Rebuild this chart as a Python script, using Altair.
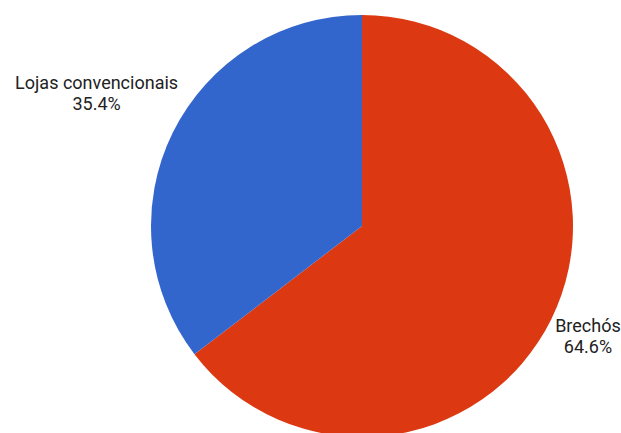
import altair as alt
import pandas as pd

categories = ["Brechós", "Lojas convencionais"]
values = [64.6, 35.4]
pct_labels = ["64.6%", "35.4%"]
colors = ["#dc3912", "#3366cc"]

df = pd.DataFrame({
    "cat": categories,
    "val": values,
    "pct": pct_labels,
    "idx": list(range(len(categories))),
})
df["label"] = df["cat"] + "\n" + df["pct"]

CX, CY, R = 362, 226, 211

tscale = alt.Scale(domain=[0, 100], range=[0, 6.283185307179586])

base = alt.Chart(df).transform_stack(
    stack="val", as_=["v0", "v1"], groupby=[], sort=[alt.SortField("idx", order="ascending")]
).transform_calculate(
    mid="(datum.v0 + datum.v1) / 2",
    lr="datum.cat == 'Brechós' ? 252 : 296",
).encode(
    x=alt.value(CX),
    y=alt.value(CY),
)

arcs = base.mark_arc(outerRadius=R, stroke=None).encode(
    theta=alt.Theta("v0:Q", scale=tscale, stack=None),
    theta2="v1:Q",
    color=alt.Color("cat:N", scale=alt.Scale(domain=categories, range=colors), legend=None),
)

labels = base.mark_text(
    font="Roboto", fontSize=18, lineBreak="\n", dy=-11,
    align="center", baseline="middle", color="#222222", lineHeight=21,
).encode(
    theta=alt.Theta("mid:Q", scale=tscale, stack=None),
    radius=alt.Radius("lr:Q", scale=None),
    text="label:N",
)

chart = alt.layer(arcs, labels).properties(
    width=621, height=433, autosize=alt.AutoSizeParams(type="none"), padding=0,
    background="white",
).configure_view(stroke=None)

chart.save("out.html", embed_options={"renderer": "svg", "actions": False})
